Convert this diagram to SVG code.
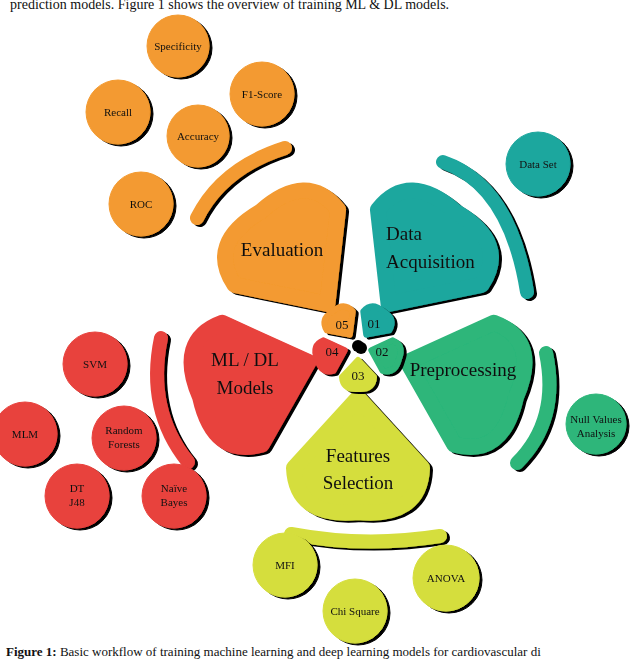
<svg xmlns="http://www.w3.org/2000/svg" width="640" height="660" viewBox="0 0 640 660">
<defs>
<filter id="sh" x="-20%" y="-20%" width="150%" height="150%">
<feOffset in="SourceAlpha" dx="3" dy="2" result="o"/>
<feMerge><feMergeNode in="o"/><feMergeNode in="SourceGraphic"/></feMerge>
</filter>
<path id="petal" d="M52,0 L122,-64 Q172,-62 166,0 Q172,62 122,64 Z" stroke-width="16" stroke-linejoin="round"/>
<path id="mini" d="M14,0 L31,-16 Q44,-15 43,0 Q44,15 31,16 Z" stroke-width="6" stroke-linejoin="round"/>
</defs>
<style>
text{font-family:"Liberation Serif","DejaVu Serif",serif;fill:#111;text-anchor:middle}
.big{font-size:19px}
.sm{font-size:11px}
.num{font-size:13px}
.o{fill:#f39a30;stroke:#f39a30}
.t{fill:#1fa79e;stroke:#1fa79e}
.g{fill:#2db67a;stroke:#2db67a}
.y{fill:#d5de3e;stroke:#d5de3e}
.r{fill:#e8433e;stroke:#e8433e}
.arc{fill:none;stroke-width:14;stroke-linecap:round}
</style>
<rect width="640" height="660" fill="#fff"/>
<text x="10" y="9" style="font-size:14px;text-anchor:start">prediction models. Figure 1 shows the overview of training ML &amp; DL models.</text>
<g id="connectors" filter="url(#sh)">
<path class="arc t" d="M443,162 Q510,185 527,292"/>
<path class="arc g" d="M546,353 Q560,420 517,463"/>
<path class="arc y" d="M291,534 Q365,548 440,536"/>
<path class="arc r" d="M161,338 Q146,410 188,462"/>
<path class="arc o" d="M197,218 Q222,168 285,148"/>
</g>
<g id="data-acquisition" filter="url(#sh)">
<use href="#petal" class="t" transform="translate(358,346) rotate(-54)"/>
<text class="big" x="386" y="240" style="text-anchor:start">Data</text>
<text class="big" x="386" y="268" style="text-anchor:start">Acquisition</text>
</g>
<g id="preprocessing" filter="url(#sh)">
<use href="#petal" class="g" transform="translate(358,346) rotate(18)"/>
<text class="big" x="463" y="376">Preprocessing</text>
</g>
<g id="features-selection" filter="url(#sh)">
<use href="#petal" class="y" transform="translate(358,346) rotate(90)"/>
<text class="big" x="358" y="462">Features</text>
<text class="big" x="358" y="489">Selection</text>
</g>
<g id="ml-dl-models" filter="url(#sh)">
<use href="#petal" class="r" transform="translate(358,346) rotate(162)"/>
<text class="big" x="245" y="366">ML / DL</text>
<text class="big" x="245" y="394">Models</text>
</g>
<g id="evaluation" filter="url(#sh)">
<use href="#petal" class="o" transform="translate(358,346) rotate(-126)"/>
<text class="big" x="282" y="256">Evaluation</text>
</g>
<g id="hub" filter="url(#sh)">
<use href="#mini" class="t" transform="translate(358,346) rotate(-54)"/>
<use href="#mini" class="g" transform="translate(358,346) rotate(18)"/>
<use href="#mini" class="y" transform="translate(358,346) rotate(90)"/>
<use href="#mini" class="r" transform="translate(358,346) rotate(162)"/>
<use href="#mini" class="o" transform="translate(358,346) rotate(-126)"/>
<circle cx="358" cy="346" r="6" fill="#000"/>
<text class="num" x="374" y="328">01</text>
<text class="num" x="382" y="356">02</text>
<text class="num" x="358" y="380">03</text>
<text class="num" x="332" y="356">04</text>
<text class="num" x="342" y="329">05</text>
</g>
<g id="sat-specificity" filter="url(#sh)"><circle cx="178" cy="46" r="31" class="o"/><text class="sm" x="178" y="50">Specificity</text></g>
<g id="sat-f1" filter="url(#sh)"><circle cx="262" cy="94" r="32" class="o"/><text class="sm" x="262" y="98">F1-Score</text></g>
<g id="sat-recall" filter="url(#sh)"><circle cx="118" cy="112" r="32" class="o"/><text class="sm" x="118" y="116">Recall</text></g>
<g id="sat-accuracy" filter="url(#sh)"><circle cx="198" cy="136" r="31" class="o"/><text class="sm" x="198" y="140">Accuracy</text></g>
<g id="sat-roc" filter="url(#sh)"><circle cx="141" cy="204" r="32" class="o"/><text class="sm" x="141" y="208">ROC</text></g>
<g id="sat-dataset" filter="url(#sh)"><circle cx="538" cy="164" r="32" class="t"/><text class="sm" x="538" y="168">Data Set</text></g>
<g id="sat-null" filter="url(#sh)"><circle cx="596" cy="424" r="30" class="g"/><text class="sm" x="596" y="423">Null Values</text><text class="sm" x="596" y="437">Analysis</text></g>
<g id="sat-mfi" filter="url(#sh)"><circle cx="285" cy="565" r="32" class="y"/><text class="sm" x="285" y="569">MFI</text></g>
<g id="sat-chi" filter="url(#sh)"><circle cx="355" cy="611" r="32" class="y"/><text class="sm" x="355" y="615">Chi Square</text></g>
<g id="sat-anova" filter="url(#sh)"><circle cx="446" cy="578" r="33" class="y"/><text class="sm" x="446" y="582">ANOVA</text></g>
<g id="sat-svm" filter="url(#sh)"><circle cx="95" cy="364" r="32" class="r"/><text class="sm" x="95" y="368">SVM</text></g>
<g id="sat-mlm" filter="url(#sh)"><circle cx="25" cy="434" r="32" class="r"/><text class="sm" x="25" y="438">MLM</text></g>
<g id="sat-rf" filter="url(#sh)"><circle cx="124" cy="438" r="32" class="r"/><text class="sm" x="124" y="434">Random</text><text class="sm" x="124" y="448">Forests</text></g>
<g id="sat-dt" filter="url(#sh)"><circle cx="77" cy="496" r="32" class="r"/><text class="sm" x="77" y="492">DT</text><text class="sm" x="77" y="506">J48</text></g>
<g id="sat-nb" filter="url(#sh)"><circle cx="174" cy="496" r="32" class="r"/><text class="sm" x="174" y="492">Naïve</text><text class="sm" x="174" y="506">Bayes</text></g>
<text x="6" y="656" style="font-size:13px;text-anchor:start"><tspan font-weight="bold">Figure 1:</tspan> Basic workflow of training machine learning and deep learning models for cardiovascular di</text>
</svg>
